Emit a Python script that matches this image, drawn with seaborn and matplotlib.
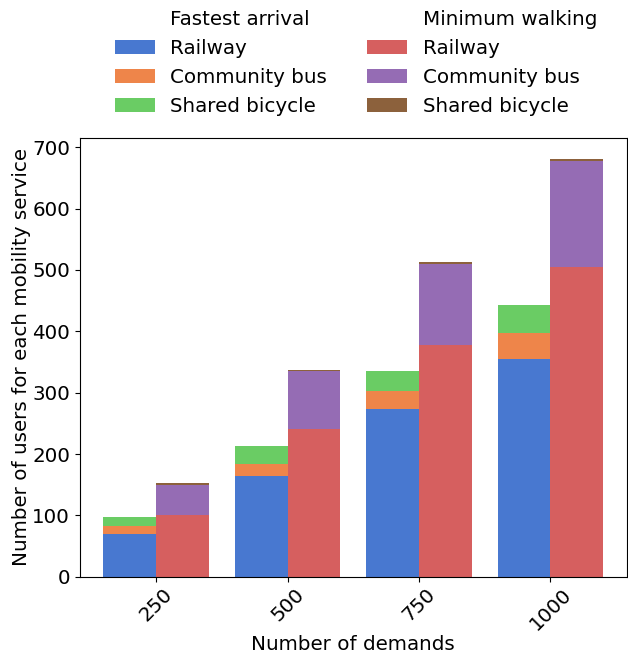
import matplotlib
matplotlib.use("Agg")
import matplotlib.pyplot as plt
from matplotlib.patches import Patch
import numpy as np
import pandas as pd
import seaborn as sns

demands = ["250", "500", "750", "1000"]
strategies = ["Fastest arrival", "Minimum walking"]
services = ["Railway", "Community bus", "Shared bicycle"]

fastest_railway = [70, 165, 274, 355]
fastest_bus = [13, 19, 29, 43]
fastest_bicycle = [14, 29, 33, 45]

walking_railway = [100, 241, 378, 505]
walking_bus = [50, 94, 132, 173]
walking_bicycle = [3, 2, 3, 3]

pal = sns.color_palette("muted")
colors = {
    "Fastest arrival": [pal[0], pal[1], pal[2]],
    "Minimum walking": [pal[3], pal[4], pal[5]],
}

rows = []
for strat, layers in [("Fastest arrival", [fastest_railway, fastest_bus, fastest_bicycle]),
                      ("Minimum walking", [walking_railway, walking_bus, walking_bicycle])]:
    cum = np.cumsum(np.array(layers), axis=0)
    for i, d in enumerate(demands):
        rows.append({"demand": d, "strategy": strat,
                     "c0": cum[0, i], "c1": cum[1, i], "c2": cum[2, i]})
df = pd.DataFrame(rows)

fs = 14.3
plt.rcParams["font.size"] = fs
fig = plt.figure(figsize=(6.28, 6.57), dpi=100)
ax = fig.add_axes([0.127, 0.122, 0.871, 0.668])

# draw cumulative totals from the top layer down so each layer covers the next
for level in (2, 1, 0):
    sns.barplot(data=df, x="demand", y=f"c{level}", hue="strategy",
                hue_order=strategies,
                palette=[colors[s][level] for s in strategies],
                order=demands, width=0.8, gap=0, saturation=1,
                linewidth=0, legend=False, ax=ax)

ax.set_xlim(-0.58, 3.58)
ax.set_xlabel("Number of demands", fontsize=fs, labelpad=1)
ax.set_ylabel("Number of users for each mobility service", fontsize=fs, labelpad=1)
ax.tick_params(axis="x", rotation=45, labelsize=fs, pad=2)
ax.tick_params(axis="y", labelsize=fs)
ax.set_yticks(range(0, 701, 100))

handles, labels = [], []
for strat in strategies:
    handles.append(Patch(facecolor="none", edgecolor="none"))
    labels.append(strat)
    for level, svc in enumerate(services):
        handles.append(Patch(facecolor=colors[strat][level]))
        labels.append(svc)
ax.legend(handles, labels, ncol=2, loc="lower center", bbox_to_anchor=(0.505, 1.01),
          frameon=False, fontsize=fs, columnspacing=2.0, labelspacing=0.5)

fig.savefig("out.png", dpi=100)
